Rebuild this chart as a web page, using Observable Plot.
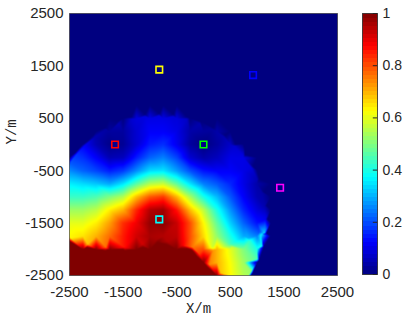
<!DOCTYPE html>
<html>
<head>
<meta charset="utf-8">
<script src="https://cdn.jsdelivr.net/npm/d3@7"></script>
<script src="https://cdn.jsdelivr.net/npm/@observablehq/plot@0.6"></script>
<style>
html, body { margin: 0; padding: 0; background: #fff; }
#chart { position: relative; width: 407px; height: 322px; overflow: hidden; }
#chart svg { position: absolute; top: 0; }
</style>
</head>
<body>
<div id="chart"></div>
<script>
// grid node coordinates (m)
const gridX = [-2500,-2250,-2000,-1750,-1500,-1250,-1000,-750,-500,-250,0,250,500,750,1000,1250,1500,1750,2000,2250,2500];
const gridY = [2500,2250,2000,1750,1500,1250,1000,750,500,250,0,-250,-500,-750,-1000,-1250,-1500,-1750,-2000,-2250,-2500];
// field values, one row per gridY, one column per gridX
const fieldRows = [
  [0,0,0,0,0,0,0,0,0,0,0,0,0,0,0,0,0,0,0,0,0],
  [0,0,0,0,0,0,0,0,0,0,0,0,0,0,0,0,0,0,0,0,0],
  [0,0,0,0,0,0,0,0,0,0,0,0,0,0,0,0,0,0,0,0,0],
  [0,0,0,0,0,0,0,0,0,0,0,0,0,0,0,0,0,0,0,0,0],
  [0,0,0,0,0,0,0,0,0,0,0,0,0,0,0,0,0,0,0,0,0],
  [0,0,0,0,0,0,0,0,0,0,0,0,0,0,0,0,0,0,0,0,0],
  [0,0,0,0,0,0,0,0,0,0,0,0,0,0,0,0,0,0,0,0,0],
  [0,0,0,0,0,0,0,0,0,0,0,0,0,0,0,0,0,0,0,0,0],
  [0,0,0,0,0,0.09,0.10,0.10,0.09,0,0,0,0,0,0,0,0,0,0,0,0],
  [0,0,0,0.03,0.03,0.08,0.12,0.12,0.10,0.04,0.03,0.04,0,0,0,0,0,0,0,0,0],
  [0,0,0.05,0.01,0.02,0.08,0.15,0.17,0.11,0.03,0,0.03,0.07,0,0,0,0,0,0,0,0],
  [0,0.17,0.12,0.05,0.06,0.15,0.22,0.25,0.19,0.08,0.04,0.06,0.10,0.10,0,0,0,0,0,0,0],
  [0.26,0.22,0.19,0.15,0.18,0.26,0.34,0.35,0.28,0.20,0.14,0.12,0.12,0.10,0,0,0,0,0,0,0],
  [0.36,0.34,0.32,0.29,0.35,0.46,0.55,0.57,0.47,0.35,0.25,0.21,0.16,0.10,0.04,0,0,0,0,0,0],
  [0.43,0.43,0.45,0.50,0.55,0.69,0.79,0.82,0.70,0.54,0.40,0.31,0.21,0.12,0.05,0,0,0,0,0,0],
  [0.53,0.53,0.56,0.64,0.70,0.84,0.95,0.97,0.86,0.69,0.56,0.40,0.27,0.16,0.09,0,0,0,0,0,0],
  [0.60,0.60,0.64,0.72,0.83,0.89,0.98,0.99,0.93,0.80,0.63,0.47,0.33,0.22,0.14,0,0,0,0,0,0],
  [0.63,0.65,0.70,0.77,0.85,0.92,0.96,0.95,0.94,0.80,0.66,0.52,0.40,0.29,0.25,0,0,0,0,0,0],
  [1,1,1,1,1,1,1,1,1,1,0.80,0.70,0.60,0.50,0.40,0,0,0,0,0,0],
  [1,1,1,1,1,1,1,1,1,1,1,0.70,0.62,0.53,0,0,0,0,0,0,0],
  [1,1,1,1,1,1,1,1,1,1,1,1,0.63,0.55,0,0,0,0,0,0,0]
];
// extra samples read just inside the outer rim
const rimInX = [-2486,-2364,-2225,-2030,-1815,-1583,-1337,-1083,-825,-567,-313,-67,165,380,575,746,890,1004,1088,1138,1155,1138,1088,1004,890,844];
const rimInY = [-350,-183,-29,142,286,400,484,534,551,534,484,400,286,142,-29,-224,-439,-671,-917,-1171,-1429,-1687,-1941,-2187,-2419,-2492];
const rimInV = [0.21,0.17,0.12,0.05,0.035,0.05,0.08,0.095,0.09,0.087,0.07,0.045,0.03,0.046,0.08,0.095,0.09,0.05,0.04,0.046,0.11,0.33,0.38,0.45,0.52,0.54];
// samples read just outside the outer rim (background)
const rimOutX = [-2519,-2395,-2253,-2055,-1835,-1598,-1348,-1089,-825,-561,-302,-52,185,405,603,778,924,1041,1126,1178,1195,1178,1126,1041,924,878];
const rimOutY = [-329,-158,-1,174,320,437,522,574,591,574,522,437,320,174,-1,-199,-419,-656,-906,-1165,-1429,-1693,-1952,-2202,-2439,-2514];
// samples read on both sides of the inner coverage edges
const edgeX = [
  -2483,-2160,-1822,-1478,-1140,-880, -2508,-2175,-1827,-1473,-1125,-857,
  -674,-410,-206, -694,-422,-212,
  -80,110,327, -126,71,294,
  172,510,833,1044, 177,525,858,1076
];
const edgeY = [
  -1785,-1903,-1963,-1963,-1903,-1813, -1840,-1961,-2022,-2022,-1961,-1869,
  -1851,-1927,-1959, -1908,-1986,-2019,
  -2091,-2289,-2458, -2130,-2334,-2508,
  -1963,-1903,-1785,-1671, -2022,-1961,-1840,-1721
];
const edgeV = [
  0.63,0.69,0.77,0.86,0.92,0.96, 1,1,1,1,1,1,
  0.95,0.90,0.76, 1,1,1,
  0.82,0.75,0.68, 1,1,1,
  0.58,0.44,0.30,0.20, 0.73,0.58,0.42,0.36
];
// sensor markers
const sensorX = [-1650, -825, 0, 925, 1429, -825];
const sensorY = [0, 1429, 0, 1325, -825, -1429];
const sensorColor = ["#ff0000", "#ffff00", "#00ff00", "#0000ff", "#ff00ff", "#00ffff"];
// ticks
const axisTicks = [-2500, -1500, -500, 500, 1500, 2500];
const colorbarTicks = [0, 0.2, 0.4, 0.6, 0.8, 1];
// jet colormap stops
const jetStops = [0, 0.125, 0.375, 0.625, 0.875, 1];
const jetColors = ["#000080", "#0000ff", "#00ffff", "#ffff00", "#ff0000", "#800000"];

const samples = [];
fieldRows.forEach((row, j) => row.forEach((v, i) => samples.push({x: gridX[i], y: gridY[j], v})));
rimInX.forEach((x, i) => samples.push({x, y: rimInY[i], v: rimInV[i]}));
rimOutX.forEach((x, i) => samples.push({x, y: rimOutY[i], v: 0}));
edgeX.forEach((x, i) => samples.push({x, y: edgeY[i], v: edgeV[i]}));
const sensors = sensorX.map((x, i) => ({x, y: sensorY[i], c: sensorColor[i]}));

const colorScale = {type: "linear", domain: jetStops, range: jetColors, clamp: true, interpolate: "rgb"};
const tickFont = "'Liberation Sans', Arial, Helvetica, sans-serif";
const labelFont = "'Liberation Mono', 'Courier New', monospace";

const main = Plot.plot({
  width: 407, height: 322,
  marginLeft: 69, marginRight: 70, marginTop: 13, marginBottom: 47,
  style: {fontFamily: tickFont, fontSize: "15px", color: "#262626", background: "transparent"},
  x: {domain: [-2500, 2500]},
  y: {domain: [-2500, 2500]},
  color: colorScale,
  marks: [
    Plot.raster(samples, {x: "x", y: "y", fill: "v", interpolate: "barycentric"}),
    Plot.frame({stroke: "#262626", strokeOpacity: 0.6}),
    ...sensors.map(s => Plot.dot([s], {x: "x", y: "y", stroke: s.c, symbol: "square", r: 3.7, strokeWidth: 1.6, fill: "none"})),
    Plot.axisX(axisTicks, {tickSize: 0, tickPadding: 11, tickFormat: d => String(d), label: null}),
    Plot.axisY(axisTicks, {tickSize: 0, tickPadding: 6, tickFormat: d => String(d), label: null}),
    Plot.text(["X/m"], {frameAnchor: "bottom", dy: 37, dx: -5, text: d => d, fontFamily: labelFont, fontSize: 14, fill: "#262626"}),
    Plot.text(["Y/m"], {frameAnchor: "left", dx: -58, rotate: -90, text: d => d, fontFamily: labelFont, fontSize: 14, fill: "#262626"})
  ]
});

const bar = Plot.plot({
  width: 67, height: 322,
  marginLeft: 22, marginRight: 30, marginTop: 13, marginBottom: 48,
  style: {fontFamily: tickFont, fontSize: "14px", color: "#262626", background: "transparent"},
  x: {domain: [0, 1], axis: null},
  y: {domain: [0, 1]},
  color: colorScale,
  marks: [
    Plot.raster({fill: (x, y) => y, x1: 0, x2: 1, y1: 0, y2: 1, width: 2, height: 64, imageRendering: "pixelated"}),
    Plot.frame({stroke: "#262626", strokeOpacity: 0.8}),
    Plot.ruleY(colorbarTicks, {x1: 0.72, x2: 1, stroke: "#262626"}),
    Plot.axisY(colorbarTicks, {anchor: "right", tickSize: 0, tickPadding: 5, tickFormat: d => String(d), label: null})
  ]
});

const chart = document.getElementById("chart");
main.style.left = "0px";
bar.style.left = "340px";
chart.appendChild(main);
chart.appendChild(bar);
</script>
</body>
</html>
